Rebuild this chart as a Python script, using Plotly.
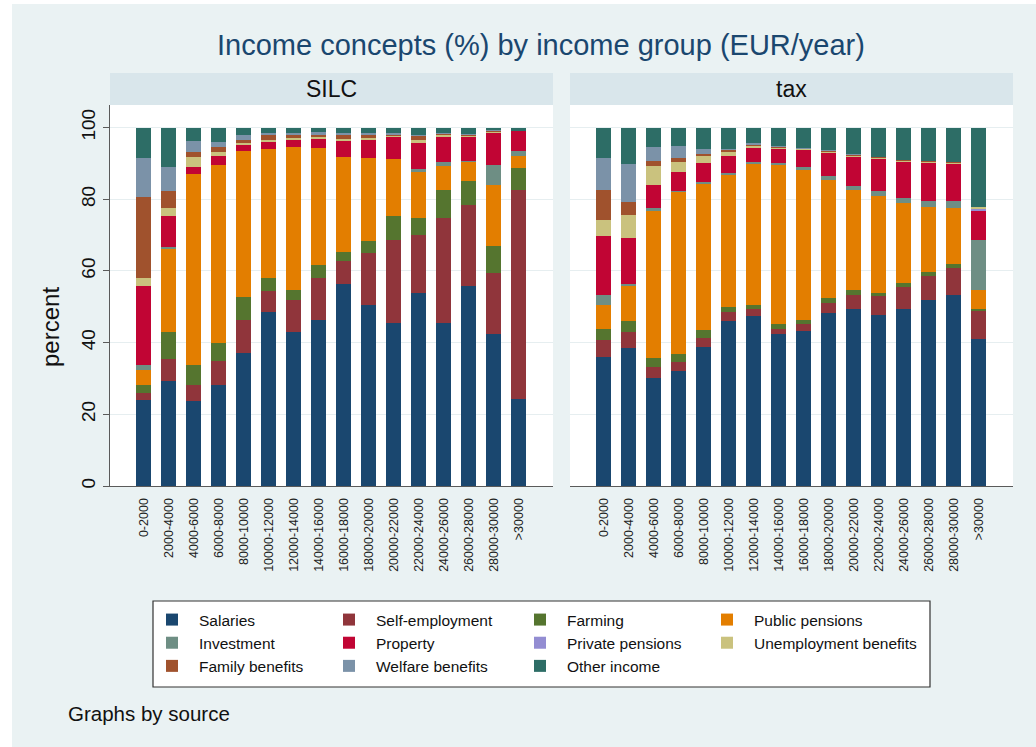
import plotly.graph_objects as go

# ---------------- data ----------------
groups = ["0-2000", "2000-4000", "4000-6000", "6000-8000", "8000-10000",
          "10000-12000", "12000-14000", "14000-16000", "16000-18000",
          "18000-20000", "20000-22000", "22000-24000", "24000-26000",
          "26000-28000", "28000-30000", ">30000"]

concepts = ["Salaries", "Self-employment", "Farming", "Public pensions",
            "Investment", "Property", "Private pensions", "Unemployment benefits",
            "Family benefits", "Welfare benefits", "Other income"]

silc_salaries = [23.9, 29.2, 23.6, 28.1, 37.2, 48.5, 42.9, 46.4, 56.3, 50.4, 45.4, 53.9, 45.4, 55.8, 42.5, 24.3]
silc_selfemp = [2.1, 6.1, 4.5, 6.9, 9.2, 6.0, 8.9, 11.6, 6.6, 14.7, 23.3, 16.0, 29.3, 22.7, 17.0, 58.4]
silc_farming = [2.3, 7.8, 5.8, 4.9, 6.3, 3.5, 3.0, 3.7, 2.4, 3.2, 6.5, 4.9, 8.0, 6.7, 7.6, 6.0]
silc_pubpens = [4.1, 23.1, 53.2, 49.8, 40.7, 36.1, 39.7, 32.5, 26.6, 23.1, 15.9, 12.9, 6.5, 5.4, 16.9, 3.3]
silc_invest = [1.4, 0.5, 0, 0, 0, 0, 0, 0, 0, 0, 0, 0.7, 1.1, 0.2, 5.6, 1.6]
silc_property = [21.9, 8.5, 2.0, 2.4, 1.8, 1.9, 2.2, 2.8, 4.5, 5.3, 6.4, 7.5, 7.3, 6.7, 8.8, 5.4]
silc_privpens = [0, 0, 0, 0, 0, 0, 0, 0, 0, 0, 0, 0, 0, 0, 0, 0]
silc_unemp = [2.3, 2.4, 2.7, 1.1, 0.6, 0.6, 0.4, 0.4, 0.3, 0.4, 0.3, 0.5, 0.4, 0.3, 0.6, 0]
silc_family = [22.6, 4.6, 1.4, 1.3, 0.8, 1.2, 0.7, 0.6, 1.3, 0.9, 0.4, 1.3, 0.3, 0.3, 0.3, 0]
silc_welfare = [10.8, 6.9, 3.0, 1.4, 1.2, 0.6, 0.6, 0.7, 0.4, 0.6, 0.4, 0.3, 0.2, 0.2, 0.1, 0]
silc_other = [8.6, 10.9, 3.8, 4.1, 2.2, 1.6, 1.6, 1.3, 1.6, 1.4, 1.4, 2.0, 1.5, 1.7, 0.6, 1.0]

tax_salaries = [36.0, 38.4, 30.2, 32.1, 38.8, 45.9, 47.4, 42.3, 43.2, 48.3, 49.3, 47.8, 49.3, 51.8, 53.3, 40.9]
tax_selfemp = [4.8, 4.5, 3.0, 2.5, 2.5, 2.6, 1.9, 1.6, 2.1, 2.8, 4.0, 5.1, 6.2, 6.7, 7.5, 8.1]
tax_farming = [2.9, 3.0, 2.4, 2.1, 2.1, 1.4, 1.3, 1.4, 0.9, 1.3, 1.3, 1.0, 1.2, 1.2, 1.2, 0.4]
tax_pubpens = [6.8, 9.8, 41.4, 45.4, 41.1, 36.9, 39.3, 44.4, 42.0, 33.1, 28.1, 26.9, 22.3, 18.1, 15.5, 5.4]
tax_invest = [2.8, 0.7, 0.5, 0.3, 0.4, 0.5, 0.4, 0.4, 0.7, 0.9, 0.9, 1.4, 1.3, 1.7, 2.0, 13.7]
tax_property = [16.4, 12.8, 6.5, 5.1, 5.2, 4.9, 4.0, 4.0, 4.9, 6.7, 8.4, 9.2, 10.2, 10.8, 10.6, 8.5]
tax_privpens = [0, 0, 0, 0, 0, 0, 0, 0, 0, 0, 0, 0, 0, 0, 0, 0.4]
tax_unemp = [4.6, 6.3, 5.4, 3.0, 1.9, 0.9, 0.7, 0.3, 0.3, 0.3, 0.3, 0.3, 0.3, 0.3, 0.2, 0.4]
tax_family = [8.3, 3.7, 1.4, 0.9, 0.7, 0.7, 0.4, 0.3, 0.2, 0.3, 0.3, 0.2, 0.2, 0.2, 0.1, 0]
tax_welfare = [8.8, 10.7, 3.7, 3.4, 1.2, 0.3, 0.2, 0.2, 0.1, 0.1, 0.1, 0, 0, 0, 0, 0]
tax_other = [8.6, 10.1, 5.5, 5.2, 6.1, 5.9, 4.4, 5.1, 5.6, 6.2, 7.3, 8.1, 9.0, 9.2, 9.6, 22.2]

silc_series = [silc_salaries, silc_selfemp, silc_farming, silc_pubpens, silc_invest,
               silc_property, silc_privpens, silc_unemp, silc_family, silc_welfare, silc_other]
tax_series = [tax_salaries, tax_selfemp, tax_farming, tax_pubpens, tax_invest,
              tax_property, tax_privpens, tax_unemp, tax_family, tax_welfare, tax_other]

colors = ["#1A476F", "#90353B", "#55752F", "#E37E00", "#6E8E84", "#C10534",
          "#938DD2", "#CAC27E", "#A0522D", "#7B92A8", "#2D6D66"]

# legend column (0..3) of every concept, and the width of each legend column
legend_col = [0, 1, 2, 3, 0, 1, 2, 3, 0, 1, 2]
col_width = [118, 132, 128, 170]

# ---------------- layout geometry (pixels) ----------------
W, H = 1036, 747
ML, MR, MT, MB = 110, 23, 105, 261
PW, PH = W - ML - MR, H - MT - MB


def px(xp):
    return (xp - ML) / PW


def py(yp):
    return (H - MB - yp) / PH


FONT = "Liberation Sans, Arial, sans-serif"
BG = "#EAF2F3"
STRIP = "#D9E6EB"

fig = go.Figure()
for i, name in enumerate(concepts):
    grp = "col%d" % legend_col[i]
    fig.add_trace(go.Bar(x=groups, y=silc_series[i], name=name, marker_color=colors[i],
                         marker_line_width=0, legendgroup=grp, showlegend=True,
                         legendwidth=col_width[legend_col[i]],
                         xaxis="x", yaxis="y", width=0.6))
    fig.add_trace(go.Bar(x=groups, y=tax_series[i], name=name, marker_color=colors[i],
                         marker_line_width=0, legendgroup=grp, showlegend=False,
                         xaxis="x2", yaxis="y2", width=0.6))

xcommon = dict(type="category", categoryorder="array", categoryarray=groups,
               range=[-1.34, 16.36], tickangle=-90, ticks="", showgrid=False,
               showline=True, linecolor="#5A5A5A", linewidth=1.3, zeroline=False,
               tickfont=dict(family=FONT, size=12.5, color="#222222"),
               ticklabelstandoff=6, fixedrange=True)
ycommon = dict(range=[0, 106.3], tickvals=[0, 20, 40, 60, 80, 100], showgrid=True,
               gridcolor="#E6EEF0", gridwidth=1, zeroline=False, fixedrange=True)

fig.update_layout(
    width=W, height=H,
    margin=dict(l=ML, r=MR, t=MT, b=MB, autoexpand=False),
    paper_bgcolor=BG, plot_bgcolor="white",
    barmode="stack",
    font=dict(family=FONT, color="#111111"),
    xaxis=dict(domain=[0, px(553)], anchor="y", **xcommon),
    xaxis2=dict(domain=[px(570), 1], anchor="y2", **xcommon),
    yaxis=dict(domain=[0, 1], anchor="x", showline=True, linecolor="#5A5A5A", linewidth=1.3,
               ticks="outside", ticklen=6, tickcolor="#5A5A5A", tickangle=-90,
               tickfont=dict(family=FONT, size=19, color="#111111"), **ycommon),
    yaxis2=dict(domain=[0, 1], anchor="x2", showline=False, showticklabels=False,
                ticks="", matches="y", **ycommon),
    showlegend=True,
    legend=dict(orientation="h", x=px(145), xanchor="left", y=py(603), yanchor="top",
                bgcolor="rgba(0,0,0,0)", borderwidth=0, itemwidth=44,
                traceorder="grouped", tracegroupgap=0,
                font=dict(family=FONT, size=15.5, color="#111111"),
                itemclick=False, itemdoubleclick=False),
    bargap=0.4,
)

shapes = [
    # white outer margins of the picture
    dict(type="rect", xref="paper", yref="paper", x0=px(0), x1=px(12), y0=py(H), y1=py(0),
         fillcolor="white", line_width=0, layer="above"),
    dict(type="rect", xref="paper", yref="paper", x0=px(0), x1=px(W), y0=py(4), y1=py(0),
         fillcolor="white", line_width=0, layer="above"),
    # panel strips
    dict(type="rect", xref="x domain", yref="paper", x0=0, x1=1, y0=1, y1=py(73),
         fillcolor=STRIP, line_width=0, layer="below"),
    dict(type="rect", xref="x2 domain", yref="paper", x0=0, x1=1, y0=1, y1=py(73),
         fillcolor=STRIP, line_width=0, layer="below"),
    # legend box
    dict(type="rect", xref="paper", yref="paper", x0=px(153), x1=px(930), y0=py(687), y1=py(601),
         fillcolor="white", line=dict(color="#333333", width=1.2), layer="below"),
]
fig.update_layout(shapes=shapes)

annotations = [
    dict(text="Income concepts (%) by income group (EUR/year)", xref="paper", yref="paper",
         x=px(541), y=py(45), xanchor="center", yanchor="middle", showarrow=False,
         font=dict(family=FONT, size=29, color="#1A476F")),
    dict(text="SILC", xref="x domain", yref="paper", x=0.5, y=py(89), xanchor="center",
         yanchor="middle", showarrow=False, font=dict(family=FONT, size=23, color="#111111")),
    dict(text="tax", xref="x2 domain", yref="paper", x=0.5, y=py(89), xanchor="center",
         yanchor="middle", showarrow=False, font=dict(family=FONT, size=23, color="#111111")),
    dict(text="percent", xref="paper", yref="paper", x=px(50), y=py(327), xanchor="center",
         yanchor="middle", textangle=-90, showarrow=False,
         font=dict(family=FONT, size=24, color="#111111")),
    dict(text="Graphs by source", xref="paper", yref="paper", x=px(66), y=py(713),
         xanchor="left", yanchor="middle", showarrow=False,
         font=dict(family=FONT, size=20.5, color="#111111")),
]
fig.update_layout(annotations=annotations)

fig.write_html("out.html")
